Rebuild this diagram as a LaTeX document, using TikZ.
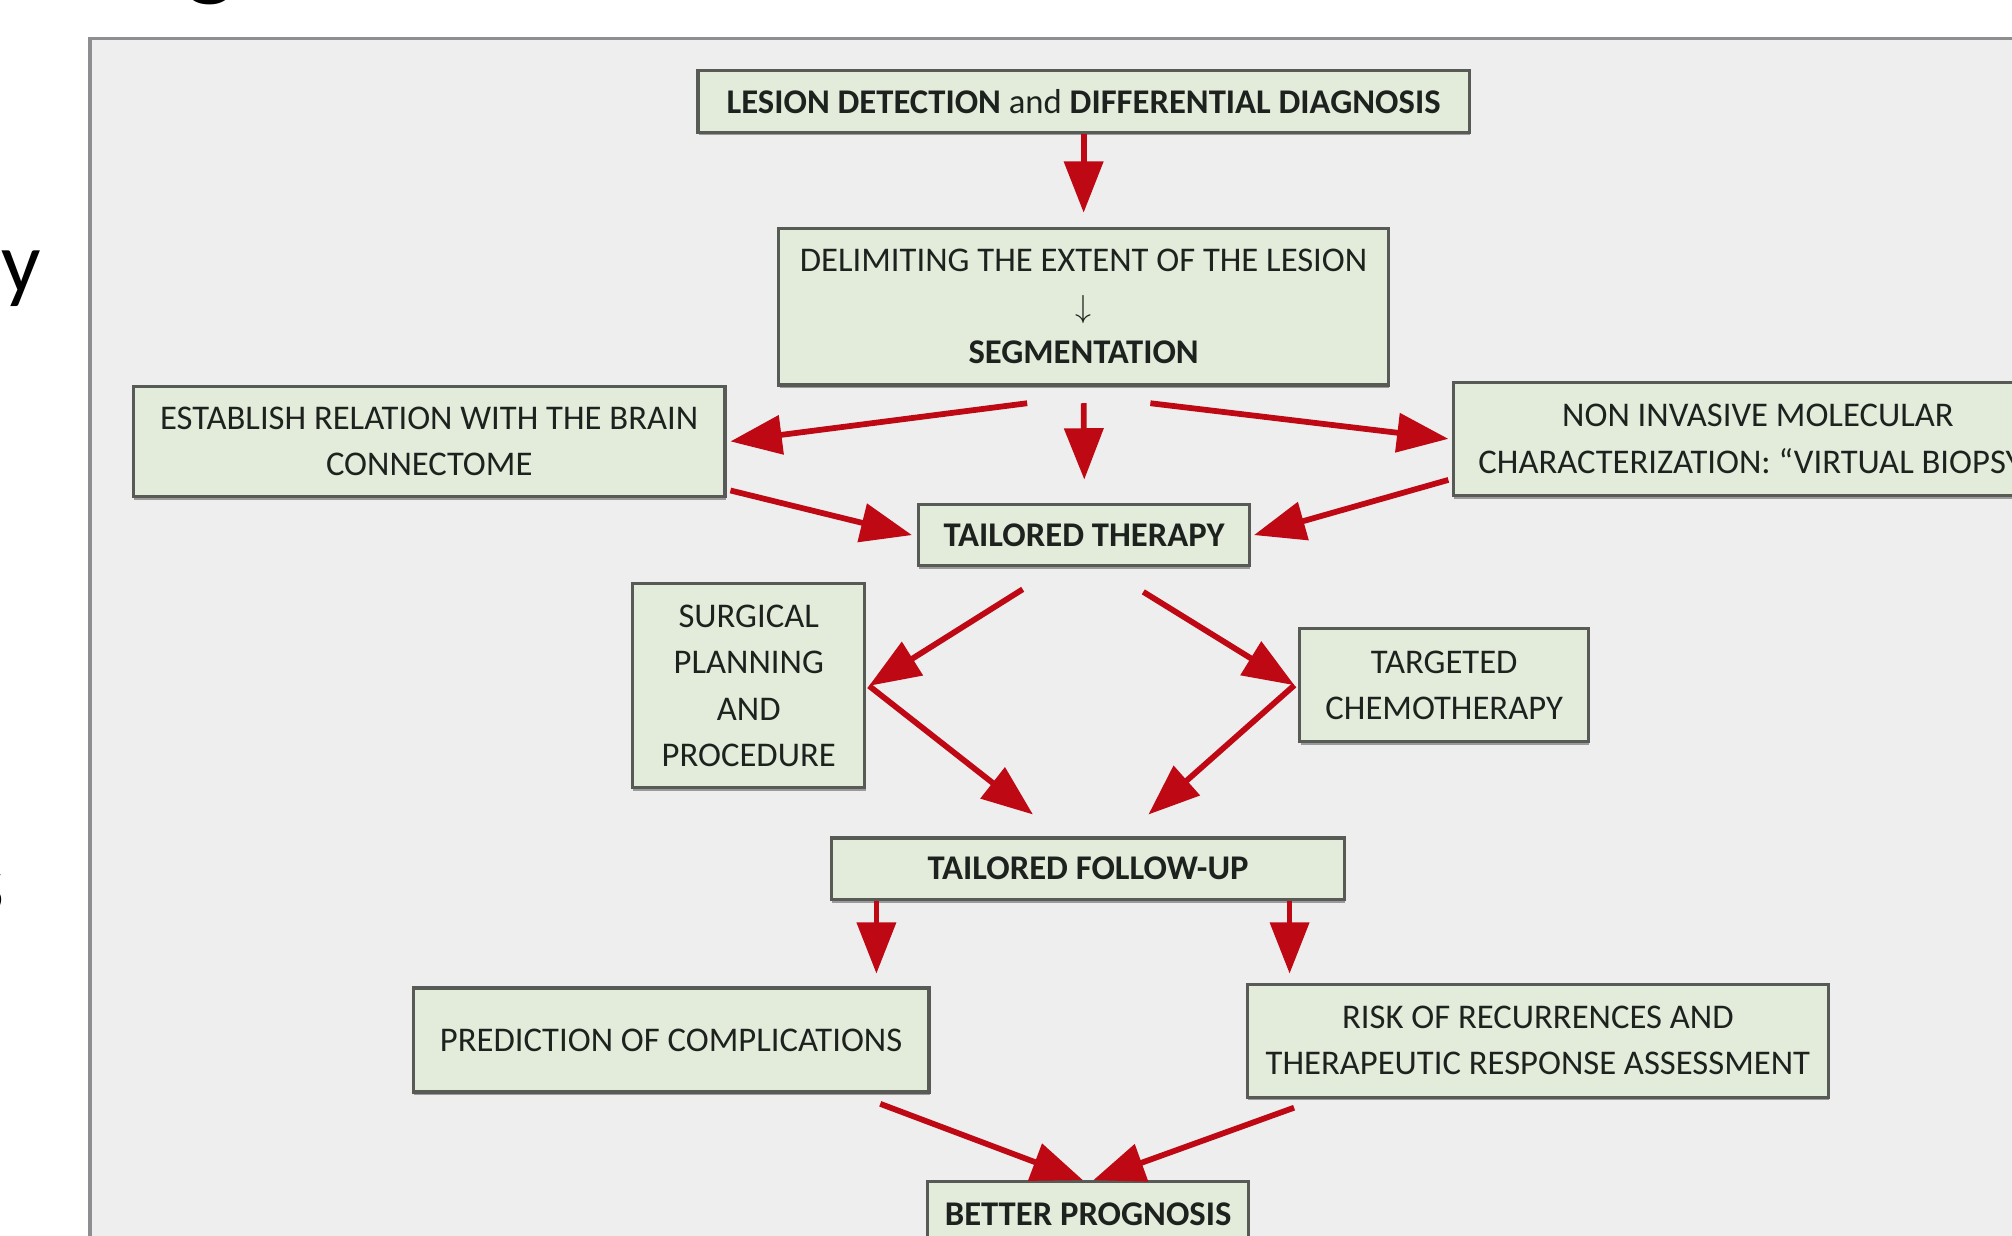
\documentclass[tikz,border=0pt]{standalone}
\usepackage{fontspec}
\setmainfont{Carlito}
\usetikzlibrary{arrows.meta,shadows}
\definecolor{bggray}{RGB}{238,238,238}
\definecolor{boxgreen}{RGB}{227,235,219}
\definecolor{boxline}{RGB}{88,90,86}
\definecolor{arrred}{RGB}{190,8,20}
\definecolor{framecol}{RGB}{140,142,145}
\definecolor{txt}{RGB}{30,34,30}
\tikzset{
  fbox/.style={draw=boxline, line width=2.5pt, fill=boxgreen, align=center, inner sep=0pt,
    text=txt, font=\fontsize{27pt}{36pt}\selectfont,
    drop shadow={shadow xshift=0.5pt, shadow yshift=-2.5pt, opacity=0.35, fill=black}},
  arr/.style={draw=arrred, line width=4.5pt, -{Triangle[length=40pt,width=30pt]}},
  frag/.style={inner sep=0pt, text=black}
}
\begin{document}
\begin{tikzpicture}[x=1pt,y=-1pt]
\useasboundingbox (0,0) rectangle (1568,963);
\clip (0,0) rectangle (1568,963);
\fill[white] (0,0) rectangle (1568,963);
\draw[framecol, line width=3pt, fill=bggray] (70,30) rectangle (1640,1010);

% fragments of surrounding slide text
\node[frag, anchor=base, font=\fontsize{80pt}{90pt}\selectfont\bfseries] (fragg) at (164,-10) {g};
\node[frag, anchor=base east, font=\fontsize{68pt}{80pt}\selectfont] (fragy) at (32,228) {y};
\node[frag, anchor=base east, font=\fontsize{68pt}{80pt}\selectfont] (frags) at (4,711) {s};

% boxes
\node[fbox, minimum width=601pt, minimum height=48pt] (lesion) at (844.5,79)
  {\textbf{LESION DETECTION} and \textbf{DIFFERENTIAL DIAGNOSIS}};
\node[fbox, minimum width=475pt, minimum height=122pt] (delim) at (844.5,239)
  {DELIMITING THE EXTENT OF THE LESION\\ $\downarrow$\\ \textbf{SEGMENTATION}};
\node[fbox, minimum width=461pt, minimum height=86pt] (estab) at (334.5,344)
  {ESTABLISH RELATION WITH THE BRAIN\\ CONNECTOME};
\node[fbox, minimum width=474pt, minimum height=88pt] (noninv) at (1370,342)
  {NON INVASIVE MOLECULAR\\ CHARACTERIZATION: “VIRTUAL BIOPSY”};
\node[fbox, minimum width=258pt, minimum height=48pt] (tther) at (845,417)
  {\textbf{TAILORED THERAPY}};
\node[fbox, minimum width=181pt, minimum height=159pt] (surg) at (583.5,534.5)
  {SURGICAL\\ PLANNING\\ AND\\ PROCEDURE};
\node[fbox, minimum width=225pt, minimum height=88pt] (targ) at (1125.5,534)
  {TARGETED\\ CHEMOTHERAPY};
\node[fbox, minimum width=400pt, minimum height=48pt] (tfu) at (848,677)
  {\textbf{TAILORED FOLLOW-UP}};
\node[fbox, minimum width=402pt, minimum height=81pt] (pred) at (523,810.5)
  {PREDICTION OF COMPLICATIONS};
\node[fbox, minimum width=453pt, minimum height=88pt] (risk) at (1198.5,811)
  {RISK OF RECURRENCES AND\\ THERAPEUTIC RESPONSE ASSESSMENT};
\node[fbox, minimum width=250pt, minimum height=50pt] (better) at (848,946)
  {\textbf{BETTER PROGNOSIS}};

% connectors
\draw[arr] (lesion.south) -- ([yshift=11pt]delim.north);
\draw[arr] ([xshift=-44pt,yshift=-13pt]delim.south) -- ([xshift=3pt]estab.east);
\draw[arr] ([yshift=-13pt]delim.south) -- ([yshift=18pt]tther.north);
\draw[arr] ([xshift=52pt,yshift=-13pt]delim.south) -- ([xshift=-3pt]noninv.west);
\draw[arr] ([xshift=3pt,yshift=6pt]estab.south east) -- ([xshift=-4pt]tther.west);
\draw[arr] ([xshift=-3pt,yshift=-32pt]noninv.west) -- ([xshift=2pt]tther.east);
\draw[arr] ([xshift=-48pt,yshift=-17pt]tther.south) -- ([xshift=2pt]surg.east);
\draw[arr] ([xshift=46pt,yshift=-19pt]tther.south) -- ([xshift=-3pt]targ.west);
\draw[arr] ([xshift=2pt]surg.east) -- ([xshift=-43pt,yshift=17pt]tfu.north);
\draw[arr] ([xshift=-3pt]targ.west) -- ([xshift=47pt,yshift=17pt]tfu.north);
\draw[arr] ([xshift=-165pt]tfu.south) -- ([xshift=160pt,yshift=10pt]pred.north);
\draw[arr] ([xshift=157pt]tfu.south) -- ([xshift=-193.5pt,yshift=7pt]risk.north);
\draw[arr] ([xshift=163pt,yshift=-8pt]pred.south) -- ([xshift=-4pt]better.north);
\draw[arr] ([xshift=-190pt,yshift=-7pt]risk.south) -- ([xshift=4pt]better.north);
\end{tikzpicture}
\end{document}
